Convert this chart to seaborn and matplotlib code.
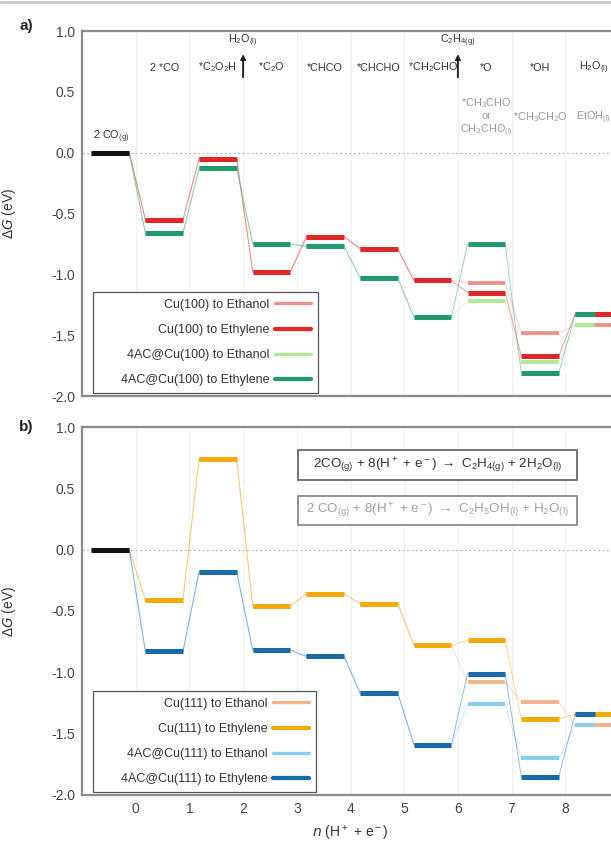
import numpy as np
import pandas as pd
import matplotlib
matplotlib.use("Agg")
import matplotlib.pyplot as plt
import seaborn as sns
from matplotlib.lines import Line2D
from matplotlib.patches import Rectangle

# ---------------------------------------------------------------- data
# reaction steps: -1 is the gas-phase start, 0..8 the electron transfers
steps = [-1, 0, 1, 2, 3, 4, 5, 6, 7, 8]

# free energies (eV) along the C2 pathways on Cu(100)
cu100_ethanol = [0.0, -0.55, -0.05, -0.98, -0.69, -0.79, -1.05, -1.07, -1.48, -1.42]
cu100_ethylene = [0.0, -0.55, -0.05, -0.98, -0.69, -0.79, -1.05, -1.15, -1.67, -1.33]
ac100_ethanol = [0.0, -0.66, -0.13, -0.75, -0.77, -1.03, -1.35, -1.22, -1.72, -1.42]
ac100_ethylene = [0.0, -0.66, -0.13, -0.75, -0.77, -1.03, -1.35, -0.75, -1.81, -1.33]

# free energies (eV) along the C2 pathways on Cu(111)
cu111_ethanol = [0.0, -0.41, 0.74, -0.46, -0.36, -0.44, -0.78, -1.08, -1.24, -1.43]
cu111_ethylene = [0.0, -0.41, 0.74, -0.46, -0.36, -0.44, -0.78, -0.74, -1.38, -1.34]
ac111_ethanol = [0.0, -0.83, -0.18, -0.82, -0.87, -1.17, -1.59, -1.26, -1.70, -1.43]
ac111_ethylene = [0.0, -0.83, -0.18, -0.82, -0.87, -1.17, -1.59, -1.01, -1.85, -1.34]

legend_a = ["Cu(100) to Ethanol", "Cu(100) to Ethylene",
            "4AC@Cu(100) to Ethanol", "4AC@Cu(100) to Ethylene"]
legend_b = ["Cu(111) to Ethanol", "Cu(111) to Ethylene",
            "4AC@Cu(111) to Ethanol", "4AC@Cu(111) to Ethylene"]

# intermediates of the ethylene route (dark row) and ethanol branch (grey row)
ethylene_steps = [0, 1, 2, 3, 4, 5, 6, 7, 8]
ethylene_species = ["2 *CO", "*C$_2$O$_2$H", "*C$_2$O", "*CHCO", "*CHCHO",
                    "*CH$_2$CHO", "*O", "*OH", "H$_2$O$_{(l)}$"]
ethanol_steps = [6, 7, 8]
ethanol_species = ["*CH$_3$CHO\nor\nCH$_3$CHO$_{(l)}$", "*CH$_3$CH$_2$O", "EtOH$_{(l)}$"]
released_steps = [2, 6]
released_species = ["H$_2$O$_{(l)}$", "C$_2$H$_{4(g)}$"]

x_ticks = [0, 1, 2, 3, 4, 5, 6, 7, 8]
y_ticks = [-2.0, -1.5, -1.0, -0.5, 0.0, 0.5, 1.0]

eq_ethylene = "2CO$_{(g)}$ + 8(H$^+$ + e$^-$) $\\rightarrow$ C$_2$H$_{4(g)}$ + 2H$_2$O$_{(l)}$"
eq_ethanol = "2 CO$_{(g)}$ + 8(H$^+$ + e$^-$) $\\rightarrow$ C$_2$H$_5$OH$_{(l)}$ + H$_2$O$_{(l)}$"

# ---------------------------------------------------------------- style
sns.set_theme(style="white")
plt.rcParams["font.family"] = ["Liberation Sans", "DejaVu Sans"]
plt.rcParams["mathtext.default"] = "regular"
plt.rcParams["axes.unicode_minus"] = False

LEVEL_START, LEVEL_END = 0.18, 0.88
SPINE = "#8c8c8c"
LABEL_FS = 7.8


def path_frame(values, name):
    """Long-form frame tracing the stepwise path of one pathway."""
    rows = []
    for s, e in zip(steps, values):
        rows.append({"x": s + LEVEL_START, "energy": e, "series": name})
        rows.append({"x": s + LEVEL_END, "energy": e, "series": name})
    return pd.DataFrame(rows)


def draw_panel(ax, series, names, colors, widths, half_final):
    df = pd.concat([path_frame(v, n) for v, n in zip(series, names)],
                   ignore_index=True)
    # thin connectors between consecutive states
    sns.lineplot(data=df, x="x", y="energy", hue="series",
                 palette=dict(zip(names, colors)), sort=False, estimator=None,
                 linewidth=0.7, alpha=0.45, legend=False, ax=ax)
    # thick horizontal levels
    starts = np.array(steps[1:]) + LEVEL_START
    for v, c, w, half in zip(series, colors, widths, half_final):
        ends = np.array(steps[1:]) + LEVEL_END
        ends[-1] = steps[-1] + (0.56 if half else 0.98)
        ax.hlines(v[1:], starts, ends, colors=c, linewidth=w, zorder=3)
    ax.hlines(series[0][0], steps[0] + LEVEL_START - 0.02, steps[0] + LEVEL_END,
              colors="#111111", linewidth=3.6, zorder=3)

    # right-aligned legend entries; leading blanks widen the frame on the left
    handles = [Line2D([], [], color=c, lw=w * 0.85) for c, w in zip(colors, widths)]
    labels = ["      " + n for n in names]
    leg = ax.legend(handles, labels, loc="lower left", bbox_to_anchor=(0.02, 0.008),
                    borderaxespad=0, markerfirst=False, frameon=True, fancybox=False,
                    fontsize=9.0, handlelength=2.9, labelspacing=1.05,
                    borderpad=0.55, handletextpad=0.45, framealpha=1)
    leg.get_frame().set_edgecolor("#555555")
    leg.get_frame().set_linewidth(0.9)
    for t in leg.get_texts():
        t.set_color("#333333")

    ax.set_xlim(-1, 9)
    ax.set_ylim(-2.0, 1.0)
    ax.set_yticks(y_ticks)
    ax.set_yticklabels([f"{t:.1f}" for t in y_ticks])
    ax.set_xticks(x_ticks)
    for x in x_ticks:
        ax.axvline(x, color="#f0f0f0", lw=0.8, zorder=0)
    ax.axhline(0, color="#bdbdbd", lw=0.8, ls=(0, (2, 2)), zorder=0)
    ax.tick_params(direction="in", length=3, width=1, color=SPINE,
                   labelsize=10, labelcolor="#444444", pad=5)
    for side in ["left", "bottom", "top"]:
        ax.spines[side].set_color(SPINE)
        ax.spines[side].set_linewidth(1.6)
    ax.spines["right"].set_visible(False)
    ax.set_ylabel("Δ$\\it{G}$ (eV)", fontsize=10, color="#333333")
    ax.yaxis.set_label_coords(-64 / 537, 0.5)


fig = plt.figure(figsize=(6.11, 8.42), dpi=100)
ax_a = fig.add_axes([82 / 611, 1 - 396 / 842, 537 / 611, 365 / 842])
ax_b = fig.add_axes([82 / 611, 1 - 795 / 842, 537 / 611, 368 / 842])

draw_panel(ax_a,
           [cu100_ethanol, cu100_ethylene, ac100_ethanol, ac100_ethylene],
           legend_a,
           ["#f08e8e", "#e0282b", "#b0e896", "#1f9b6c"],
           [2.8, 3.6, 2.8, 3.6],
           [False, False, True, True])
draw_panel(ax_b,
           [cu111_ethanol, cu111_ethylene, ac111_ethanol, ac111_ethylene],
           legend_b,
           ["#f5b38c", "#f2aa0c", "#86cdf2", "#1a6aa6"],
           [2.8, 3.6, 2.8, 3.6],
           [False, False, True, True])

ax_a.set_xticklabels([])
ax_a.set_xlabel("")
ax_b.set_xlabel("$\\it{n}$ (H$^+$ + e$^-$)", fontsize=10, color="#333333", labelpad=6)

# species names above the levels of panel a
for s, txt in zip(ethylene_steps, ethylene_species):
    ax_a.text(s + 0.53, 0.70, txt, ha="center", va="center",
              fontsize=LABEL_FS, color="#333333")
for s, txt in zip(ethanol_steps, ethanol_species):
    ax_a.text(s + 0.53, 0.29, txt, ha="center", va="center",
              fontsize=LABEL_FS, color="#9a9a9a", linespacing=1.15)
for s, txt in zip(released_steps, released_species):
    ax_a.annotate("", xy=(s, 0.81), xytext=(s, 0.62),
                  arrowprops=dict(arrowstyle="-|>", color="#222222", lw=1.4,
                                  mutation_scale=7, shrinkA=0, shrinkB=0))
    ax_a.text(s, 0.92, txt, ha="center", va="center", fontsize=LABEL_FS,
              color="#333333")
ax_a.text(steps[0] + 0.55, 0.13, "2 CO$_{(g)}$", ha="center", va="center",
          fontsize=LABEL_FS, color="#333333")

# overall reactions in panel b, each in a framed box
for (y0, y1), eq, tc, ec in [((0.565, 0.81), eq_ethylene, "#333333", "#6a6a6a"),
                             ((0.20, 0.44), eq_ethanol, "#a0a0a0", "#8a8a8a")]:
    ax_b.add_patch(Rectangle((3.02, y0), 5.2, y1 - y0, fc="white", ec=ec,
                             lw=1.3, zorder=5))
    ax_b.text(5.62, (y0 + y1) / 2, eq, ha="center", va="center", fontsize=9.6,
              color=tc, zorder=6)

# panel tags and top rule
fig.text(19 / 611, 1 - 26 / 842, "a)", fontsize=11, fontweight="bold",
         color="#222222", va="center")
fig.text(19 / 611, 1 - 427 / 842, "b)", fontsize=11, fontweight="bold",
         color="#222222", va="center")
fig.add_artist(Line2D([0, 1], [1 - 2 / 842, 1 - 2 / 842], transform=fig.transFigure,
                      color="#c8c8c8", lw=2))

fig.savefig("out.png", dpi=100)
